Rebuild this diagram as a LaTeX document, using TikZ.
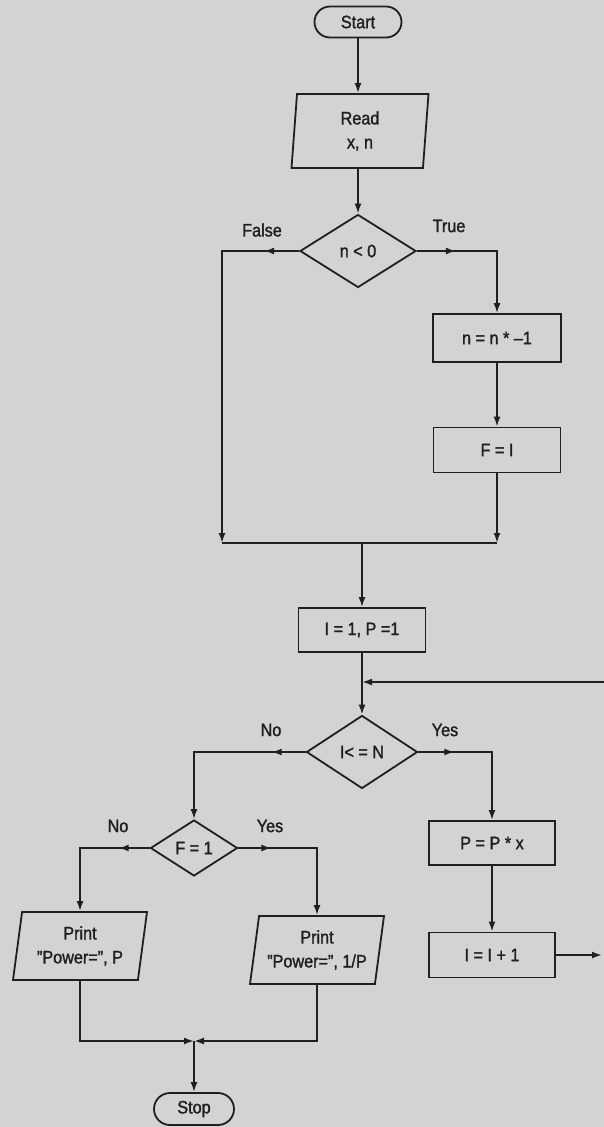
\documentclass[tikz,border=0pt]{standalone}
\usepackage{fontspec}
\setmainfont{Liberation Sans}[FakeStretch=0.9, FakeBold=1.5]
\usetikzlibrary{shapes.geometric,shapes.misc,arrows.meta,decorations.markings}
\definecolor{paper}{RGB}{212,210,212}
\definecolor{ink}{RGB}{32,30,32}
\tikzset{
	term/.style={draw, rounded rectangle, minimum width=87pt, minimum height=31pt, inner sep=0pt},
	box/.style={draw, rectangle, minimum width=127pt, minimum height=45pt, inner sep=0pt},
	io/.style={draw, trapezium, trapezium left angle=77, trapezium right angle=103, trapezium stretches body, minimum width=134pt, minimum height=68pt, inner sep=0pt, align=center},
	test/.style={draw, diamond, inner sep=0pt},
	arrowat/.style={postaction={decorate}, decoration={markings, mark=at position #1 with {\arrow{Latex[length=10pt,width=7pt]}}}},
}
\begin{document}
\begin{tikzpicture}[x=1pt, y=-1pt, line width=1.8pt, color=ink, >={Latex[length=10pt,width=7pt]}, every node/.style={font=\fontsize{18}{24}\selectfont}]
	\fill[paper] (0,0) rectangle (604,1127);
	\useasboundingbox (0,0) rectangle (604,1127);
	\node[term] (start) at (358,22) {Start};
	\node[io, minimum width=137pt, minimum height=74pt, trapezium left angle=82, trapezium right angle=98] (read) at (360,131) {Read\\x, n};
	\node[test, minimum width=116pt, minimum height=73pt] (ncheck) at (358,251) {n < 0};
	\node[box, minimum width=128pt, minimum height=48pt] (negn) at (497,338) {n = n * –1};
	\node[box] (flag) at (497,450) {F = I};
	\coordinate (joinl) at (222,543);
	\coordinate (joinm) at (362,543);
	\node[box, minimum height=44pt] (init) at (362,630) {I = 1, P =1};
	\coordinate (loopin) at (362,682);
	\coordinate (loopout) at (604,682);
	\node[test, minimum width=111pt, minimum height=73pt] (icheck) at (362,752) {I< = N};
	\node[box, minimum width=126pt, minimum height=44pt] (mult) at (492,843) {P = P * x};
	\node[box, minimum width=126pt] (incr) at (492,955) {I = I + 1};
	\coordinate (loopend) at (602,955);
	\node[test, minimum width=87pt, minimum height=56pt] (fcheck) at (194,848) {F = 1};
	\node[io] (prpos) at (80,946) {Print\\"Power=", P};
	\node[io] (prneg) at (317,950) {Print\\"Power=", 1/P};
	\coordinate (joinb) at (194,1041);
	\node[term, minimum width=80pt, minimum height=32pt] (stop) at (194,1109) {Stop};
	% branch labels
	\node (lfalse) at (262,230) {False};
	\node (ltrue) at (449,226) {True};
	\node (lno) at (271,730) {No};
	\node (lyes) at (445,730) {Yes};
	\node (lnof) at (118,826) {No};
	\node (lyesf) at (270,826) {Yes};
	% connectors
	\draw[->] (start.south) -- (start.south |- read.north);
	\draw[->] (ncheck.north |- read.south) -- (ncheck.north);
	\draw[->, arrowat=39pt] (ncheck.east) -| (negn.north);
	\draw[->] (negn) -- (flag);
	\draw[->] (flag) -- (flag.south |- joinm);
	\draw[->, arrowat=35pt] (ncheck.west) -| (joinl);
	\draw (joinl) -- (flag.south |- joinm);
	\draw[->] (joinm) -- (init);
	\draw[->] (init) -- (icheck);
	\draw[->] (loopout) -- (loopin);
	\draw[->, arrowat=36pt] (icheck.east) -| (mult.north);
	\draw[->] (mult) -- (incr);
	\draw[->] (incr) -- (loopend);
	\draw[->, arrowat=34pt] (icheck.west) -| (fcheck.north);
	\draw[->, arrowat=31pt] (fcheck.west) -| (prpos.center |- prpos.north);
	\draw[->, arrowat=33pt] (fcheck.east) -| (prneg.center |- prneg.north);
	\draw[->] (prpos.center |- prpos.south) |- (joinb);
	\draw[->] (prneg.center |- prneg.south) |- (joinb);
	\draw[->] (joinb) -- (stop);
\end{tikzpicture}
\end{document}
